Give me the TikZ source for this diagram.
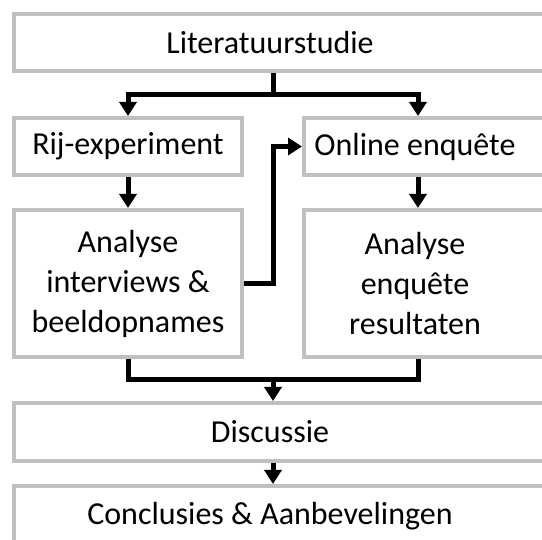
\documentclass[tikz,border=0pt]{standalone}
\usepackage{fontspec}
\setmainfont{Carlito}
\usetikzlibrary{calc,arrows.meta}
\definecolor{boxgray}{HTML}{BFBFBF}

\begin{document}
\begin{tikzpicture}[x=1pt, y=-1pt,
  font=\fontsize{32}{40}\selectfont,
  box/.style = {shape=rectangle, draw=boxgray, line width=4pt, fill=white},
  wide/.style = {box, minimum width=546pt},
  half/.style = {box, minimum width=228pt},
  halfright/.style = {box, minimum width=256pt},
  txt/.style = {label={[align=center, xshift=-17pt]center:#1}},
  link/.style = {line width=5pt},
  flow/.style = {link, -{Triangle[width=17pt,length=14pt]}}]
  \useasboundingbox (0,0) rectangle (542,540);
  \clip (0,0) rectangle (542,540);
  \fill[white] (0,0) rectangle (542,540);

  \node[wide, minimum height=57pt, txt=Literatuurstudie] (lit) at (287,42.5) {};
  \node[half, minimum height=57pt, label={center:Rij-experiment}] (rij) at (128,146.5) {};
  \node[halfright, minimum height=57pt, txt={Online enquête}] (online) at (432,146.5) {};
  \node[half, minimum height=147pt,
    label={[align=center]center:Analyse\\interviews \&\\beeldopnames}] (anaint) at (128,283.5) {};
  \node[halfright, minimum height=147pt, txt={Analyse\\enquête\\resultaten}] (anaenq) at (432,283.5) {};
  \node[wide, minimum height=58pt, txt=Discussie] (disc) at (287,432) {};
  \node[wide, minimum height=60pt, txt={Conclusies \& Aanbevelingen}] (concl) at (287,516) {};

  \coordinate (mid) at ($(rij.east)!0.5!(online.west)$);
  \coordinate (fork) at ($(lit.south -| mid)!0.5!(rij.north -| mid)$);
  \coordinate (join) at ($(anaint.south -| mid)!0.5!(disc.north -| mid)$);

  \draw[flow] (lit.south -| mid) -- (fork) -| (rij.north);
  \draw[flow] (fork) -| ([xshift=-14pt]online.north);
  \draw[flow] (rij) -- (anaint);
  \draw[flow] ([xshift=-14pt]online.south) -- ([xshift=-14pt]anaenq.north);
  \draw[flow] (anaint.east) -| (mid) -- (online.west);
  \draw[link] (anaint.south) |- (join) -| ([xshift=-14pt]anaenq.south);
  \draw[flow] (join) -- (disc.north -| join);
  \draw[flow] (disc.south -| mid) -- (concl.north -| mid);
\end{tikzpicture}
\end{document}
